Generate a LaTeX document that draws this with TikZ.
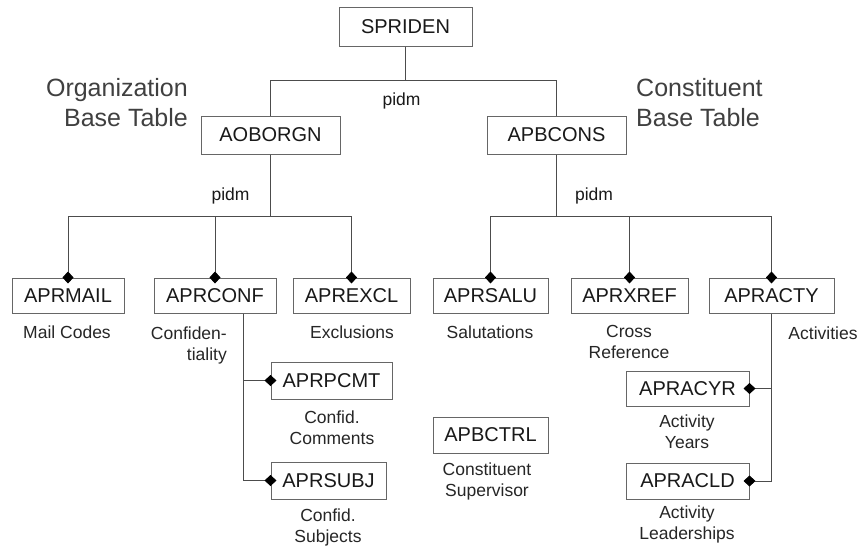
\documentclass[tikz,border=0pt]{standalone}
\usepackage{fontspec}
\setmainfont{Liberation Sans}
\usetikzlibrary{arrows.meta}
\begin{document}
\begin{tikzpicture}[x=1pt,y=-1pt,
  table/.style={draw=black!60, line width=1pt, inner sep=0pt, minimum height=36pt,
    font=\fontsize{20}{22}\selectfont, text=black!90},
  caption/.style={inner sep=0pt, align=center,
    font=\fontsize{17.5}{21}\selectfont, text=black!85},
  heading/.style={inner sep=0pt, font=\fontsize{25}{30}\selectfont, text=black!75},
  keylabel/.style={inner sep=0pt, font=\fontsize{17.5}{21}\selectfont, text=black!90},
  link/.style={draw=black!70, line width=0.9pt},
  child/.style={link, -{Diamond[length=12pt,width=11pt,color=black,fill=black]}, shorten >=-6pt}]
\useasboundingbox[fill=white] (0,0) rectangle (861,546);

% base tables
\node[table, minimum width=133pt, minimum height=39pt] (spriden) at (405.5,26.5) {SPRIDEN};
\node[table, minimum width=139pt, minimum height=38pt] (aoborgn) at (270.5,135) {AOBORGN};
\node[table, minimum width=139pt, minimum height=38pt] (apbcons) at (556.5,135) {APBCONS};

% first level of dependent tables
\node[table, minimum width=112pt, minimum height=35pt] (aprmail) at (68,295.5) {APRMAIL};
\node[table, minimum width=122pt, minimum height=35pt] (aprconf) at (215,295.5) {APRCONF};
\node[table, minimum width=117pt, minimum height=35pt] (aprexcl) at (351.5,295.5) {APREXCL};
\node[table, minimum width=115pt, minimum height=35pt] (aprsalu) at (490.5,295.5) {APRSALU};
\node[table, minimum width=117pt, minimum height=35pt] (aprxref) at (629.5,295.5) {APRXREF};
\node[table, minimum width=125pt, minimum height=35pt] (apracty) at (771.5,295.5) {APRACTY};

% second level and stand-alone tables
\node[table, minimum width=121pt, minimum height=37pt] (aprpcmt) at (331.5,380.5) {APRPCMT};
\node[table, minimum width=115pt, minimum height=37pt] (aprsubj) at (328.5,480.5) {APRSUBJ};
\node[table, minimum width=115pt, minimum height=36pt] (apbctrl) at (490.5,435) {APBCTRL};
\node[table, minimum width=123pt, minimum height=35pt] (apracyr) at (687.5,388.5) {APRACYR};
\node[table, minimum width=123pt, minimum height=36pt] (apracld) at (687.5,481) {APRACLD};

% headings
\node[heading, anchor=east, align=right] (orghead) at (188,103) {Organization\\Base Table};
\node[heading, anchor=west, align=left] (conhead) at (636,103) {Constituent\\Base Table};

% key labels
\node[keylabel] (pidmtop) at (401.5,101) {pidm};
\node[keylabel] (pidmorg) at (230.5,196) {pidm};
\node[keylabel] (pidmcon) at (594,196) {pidm};

% captions
\node[caption] (capmail) at (67,332) {Mail Codes};
\node[caption, anchor=east, align=right] (capconf) at (227,345.5) {Confiden-\\tiality};
\node[caption] (capexcl) at (352,332) {Exclusions};
\node[caption] (capsalu) at (490,332) {Salutations};
\node[caption] (capxref) at (629,341.5) {Cross\\Reference};
\node[caption] (capacty) at (823,333) {Activities};
\node[caption] (cappcmt) at (332,427.5) {Confid.\\Comments};
\node[caption] (capsubj) at (328,527) {Confid.\\Subjects};
\node[caption] (capctrl) at (487,481) {Constituent\\Supervisor};
\node[caption] (capacyr) at (687,431.5) {Activity\\Years};
\node[caption] (capacld) at (687,524) {Activity\\Leaderships};

% bus lines and spines
\coordinate (topbus) at (0,80);
\coordinate (bus) at (0,216);
\coordinate (confspine) at (243,0);

% SPRIDEN to the two base tables
\draw[link] (spriden.south) -- (spriden.south |- topbus) -| (aoborgn.north);
\draw[link] (spriden.south) -- (spriden.south |- topbus) -| (apbcons.north);

% base tables to their dependents
\foreach \c in {aprmail,aprconf,aprexcl}
  \draw[child] (aoborgn.south) -- (aoborgn.south |- bus) -| (\c.north);
\foreach \c in {aprsalu,aprxref,apracty}
  \draw[child] (apbcons.south) -- (apbcons.south |- bus) -| (\c.north);

% confidentiality details
\draw[child] (aprconf.south -| confspine) |- (aprpcmt.west);
\draw[child] (aprconf.south -| confspine) |- (aprsubj.west);

% activity details
\draw[child] (apracty.south) |- (apracyr.east);
\draw[child] (apracty.south) |- (apracld.east);
\end{tikzpicture}
\end{document}
